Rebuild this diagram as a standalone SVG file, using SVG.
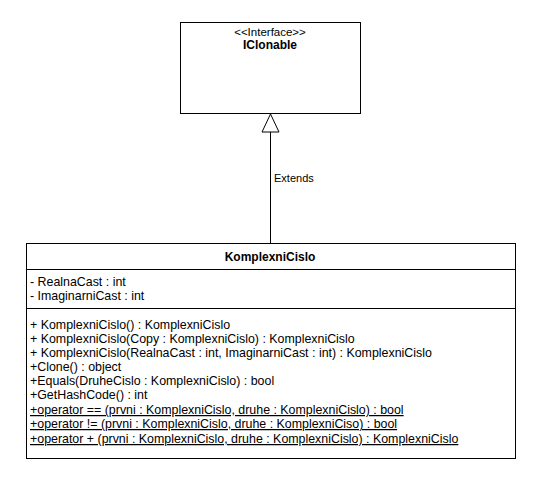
<svg xmlns="http://www.w3.org/2000/svg" width="542" height="482" viewBox="0 0 542 482">
<style>
text{font-family:"Liberation Sans",Arial,sans-serif;font-size:11px;fill:#000}
.m{font-size:12.4px}
.b{font-weight:bold;font-size:12px}
.c{text-anchor:middle}
.u{text-decoration:underline}
.box{fill:#fff;stroke:#000;stroke-width:1}
</style>
<rect width="542" height="482" fill="#fff"/>
<g id="IClonable">
<rect class="box" x="180.5" y="22.5" width="180" height="91"/>
<text class="c" x="270" y="36" style="font-size:11.5px">&lt;&lt;Interface&gt;&gt;</text>
<text class="b c" x="270" y="49">IClonable</text>
</g>
<g id="connectors">
<line x1="270.5" y1="132" x2="270.5" y2="243" stroke="#000"/>
<polygon points="270.5,114 262,132 279,132" fill="#fff" stroke="#000"/>
<text x="274" y="182">Extends</text>
</g>
<g id="KomplexniCislo">
<rect class="box" x="26.5" y="243.5" width="489" height="215"/>
<line x1="26.5" y1="269.5" x2="515.5" y2="269.5" stroke="#000"/>
<line x1="26.5" y1="308.5" x2="515.5" y2="308.5" stroke="#000"/>
<text class="b c" x="270" y="261">KomplexniCislo</text>
<g class="members">
<text class="m" x="30" y="286">- RealnaCast : int</text>
<text class="m" x="30" y="300">- ImaginarniCast : int</text>
<text class="m" x="30" y="329">+ KomplexniCislo() : KomplexniCislo</text>
<text class="m" x="30" y="343">+ KomplexniCislo(Copy : KomplexniCislo) : KomplexniCislo</text>
<text class="m" x="30" y="357">+ KomplexniCislo(RealnaCast : int, ImaginarniCast : int) : KomplexniCislo</text>
<text class="m" x="30" y="371">+Clone() : object</text>
<text class="m" x="30" y="385">+Equals(DruheCislo : KomplexniCislo) : bool</text>
<text class="m" x="30" y="399">+GetHashCode() : int</text>
<text class="m u" x="30" y="414">+operator == (prvni : KomplexniCislo, druhe : KomplexniCislo) : bool</text>
<text class="m u" x="30" y="428">+operator != (prvni : KomplexniCislo, druhe : KomplexniCiso) : bool</text>
<text class="m u" x="30" y="443">+operator + (prvni : KomplexniCislo, druhe : KomplexniCislo) : KomplexniCislo</text>
</g>
</g>
</svg>
